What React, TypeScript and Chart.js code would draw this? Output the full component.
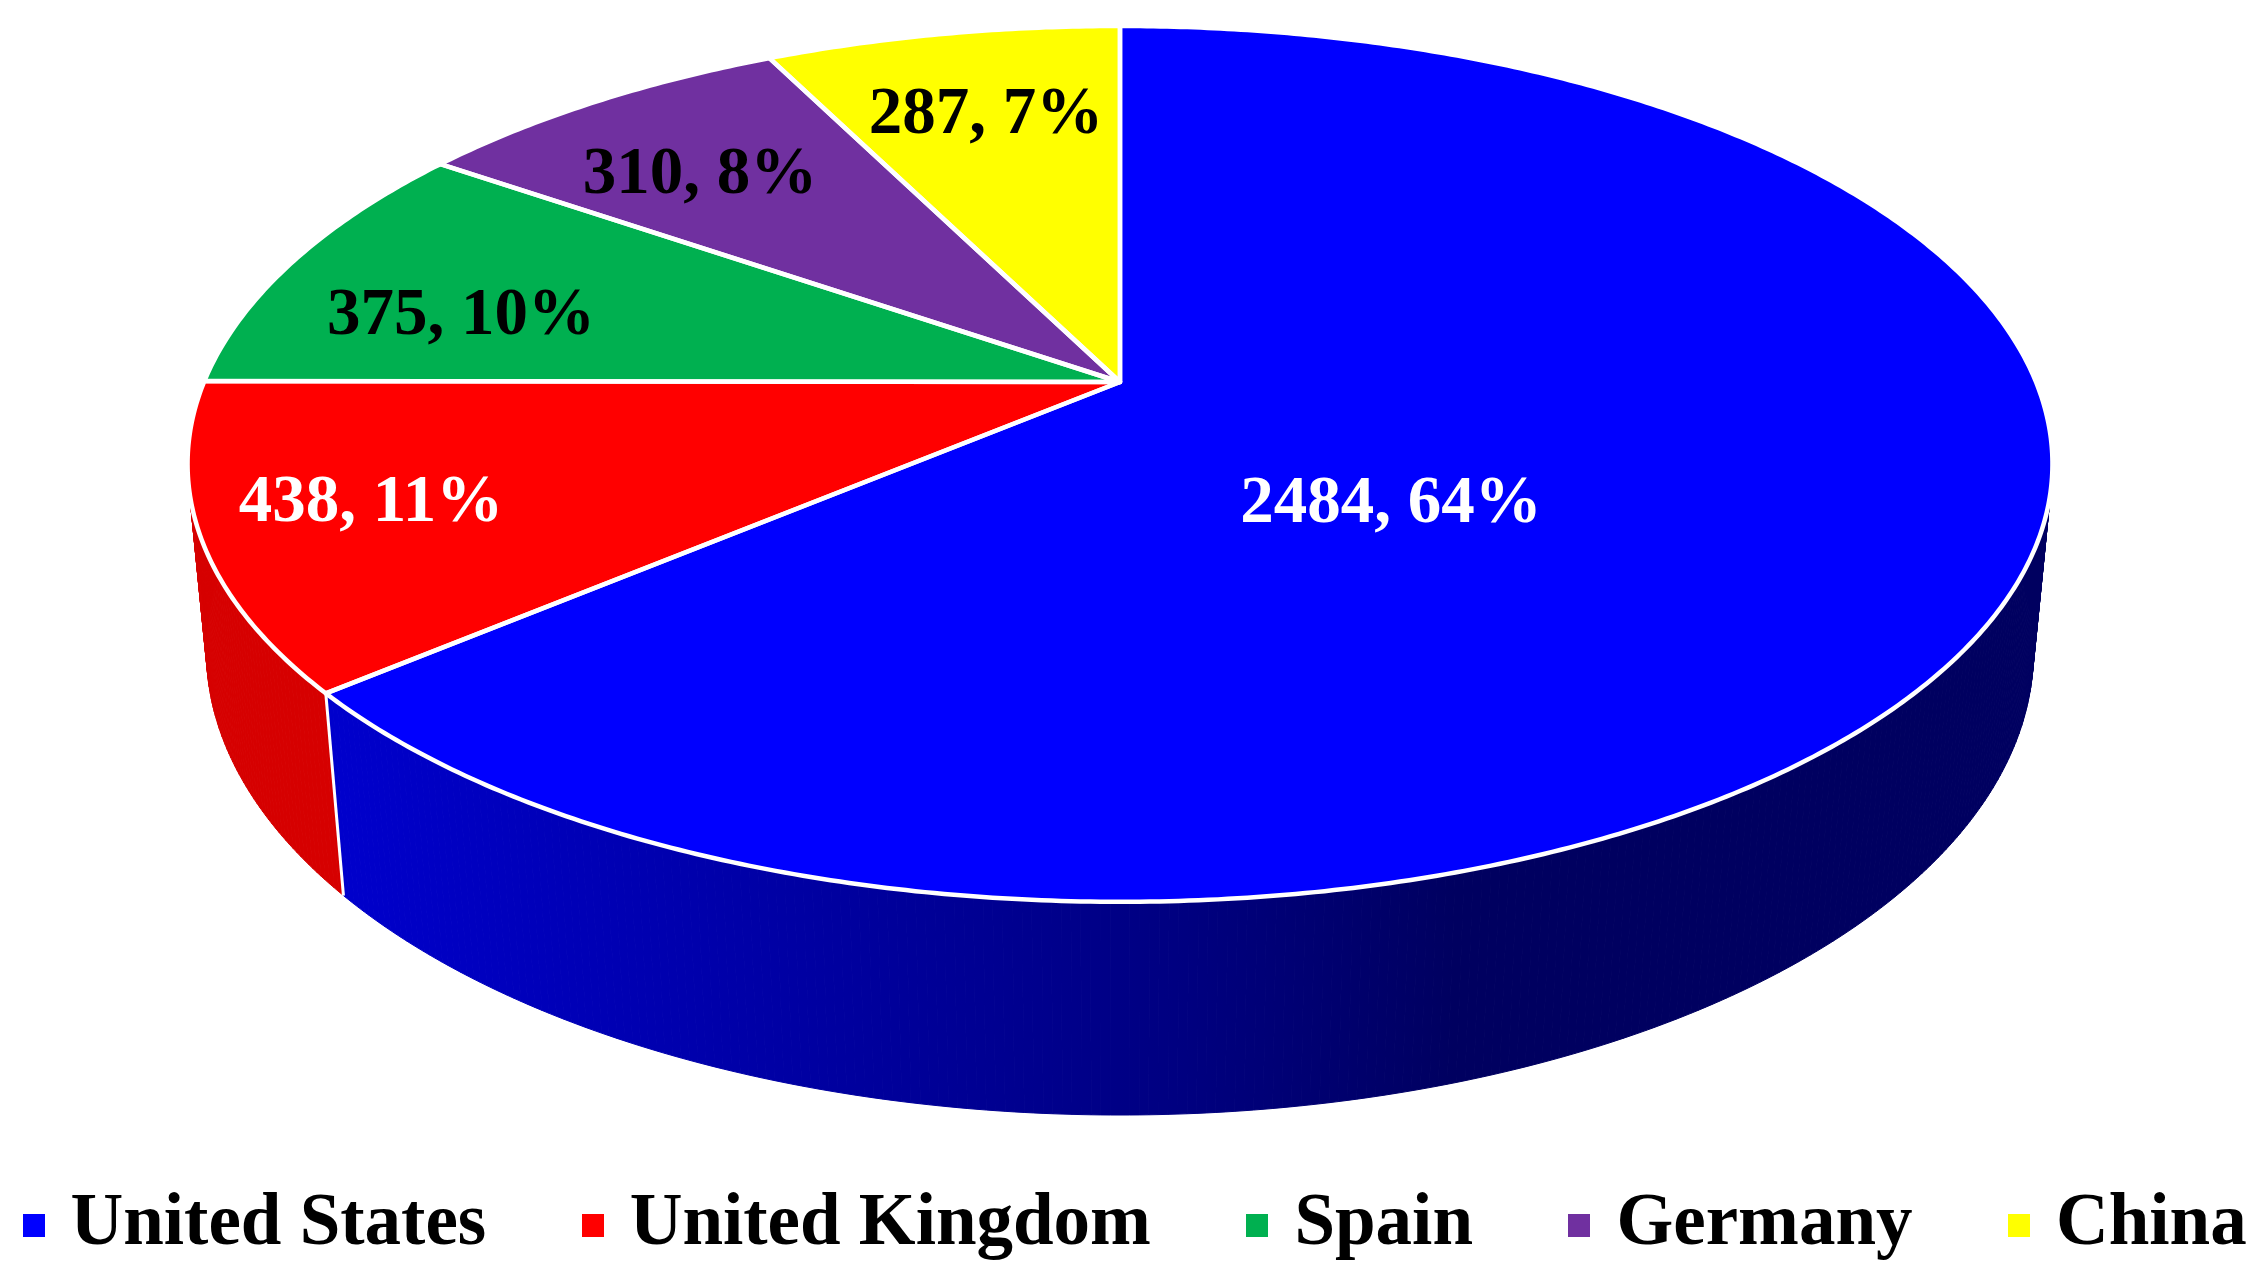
import React, { useEffect, useRef } from "react";
import { Chart, registerables } from "chart.js";

Chart.register(...registerables);

const countries = ["United States", "United Kingdom", "Spain", "Germany", "China"];
const publications = [2484, 438, 375, 310, 287];
const topColors = ["#0000FF", "#FF0000", "#00B050", "#7030A0", "#FFFF00"];
const labelColors = ["#FFFFFF", "#FFFFFF", "#000000", "#000000", "#000000"];
const labelAnchors = [
  [1391, 522],
  [371, 521],
  [461, 334],
  [700, 193],
  [986, 133],
];

const FONT = "'Liberation Serif', 'Times New Roman', serif";
const CANVAS_W = 2266;
const CANVAS_H = 1287;

// Perspective camera of the disc: a projective map of the unit circle
const cam = { ox: 1120, oy: 382, a: 916, b: 422.6, d: -0.187, c: 188, e: 0.02 };
const project = (u: number, v: number, z: number): [number, number] => {
  const w = 1 + cam.d * v + cam.e * z;
  return [cam.ox + (cam.a * u) / w, cam.oy + (cam.b * v + cam.c * z) / w];
};
const rim = (theta: number, z: number) => project(Math.cos(theta), Math.sin(theta), z);

const sideColor = (ctx: CanvasRenderingContext2D, idx: number): string | CanvasGradient => {
  if (idx === 0) {
    const g = ctx.createLinearGradient(340, 0, 2030, 0);
    g.addColorStop(0, "#0000CC");
    g.addColorStop(0.34, "#000098");
    g.addColorStop(0.5, "#000080");
    g.addColorStop(0.66, "#000060");
    g.addColorStop(1, "#000060");
    return g;
  }
  if (idx === 1) return "#D60000";
  return "#000000";
};

const pieProjection = {
  id: "pieProjection",
  beforeDatasetsDraw(chart: any) {
    const { ctx } = chart;
    const arcs = chart.getDatasetMeta(0).data;
    const STEP = Math.PI / 360;
    ctx.save();
    // extruded side wall (only the front slices are visible)
    [1, 0].forEach((i) => {
      const { startAngle, endAngle } = arcs[i];
      const from = startAngle;
      const to = i === 1 ? Math.min(endAngle, Math.PI) : endAngle;
      const fill = sideColor(ctx, i);
      ctx.fillStyle = fill;
      ctx.strokeStyle = fill;
      ctx.lineWidth = 1;
      for (let t = from; t < to; t += STEP) {
        const t2 = Math.min(t + STEP, to);
        const p = [rim(t, 0), rim(t2, 0), rim(t2, 1), rim(t, 1)];
        ctx.beginPath();
        p.forEach(([x, y], k) => (k ? ctx.lineTo(x, y) : ctx.moveTo(x, y)));
        ctx.closePath();
        ctx.fill();
        ctx.stroke();
      }
    });
    // white seam between the two visible walls
    const seam = arcs[0].endAngle;
    ctx.strokeStyle = "#FFFFFF";
    ctx.lineWidth = 3;
    ctx.beginPath();
    ctx.moveTo(...rim(seam, 0));
    ctx.lineTo(...rim(seam, 1));
    ctx.stroke();
    // top faces
    ctx.lineJoin = "round";
    arcs.forEach((arc: any, i: number) => {
      ctx.beginPath();
      ctx.moveTo(...project(0, 0, 0));
      for (let t = arc.startAngle; t < arc.endAngle; t += STEP) ctx.lineTo(...rim(t, 0));
      ctx.lineTo(...rim(arc.endAngle, 0));
      ctx.closePath();
      ctx.fillStyle = topColors[i];
      ctx.fill();
    });
    ctx.strokeStyle = "#FFFFFF";
    ctx.lineWidth = 4.5;
    arcs.forEach((arc: any) => {
      ctx.beginPath();
      ctx.moveTo(...project(0, 0, 0));
      for (let t = arc.startAngle; t < arc.endAngle; t += STEP) ctx.lineTo(...rim(t, 0));
      ctx.lineTo(...rim(arc.endAngle, 0));
      ctx.closePath();
      ctx.stroke();
    });
    // value labels
    const total = publications.reduce((s, v) => s + v, 0);
    ctx.font = `bold 67px ${FONT}`;
    ctx.textAlign = "center";
    ctx.textBaseline = "alphabetic";
    publications.forEach((v, i) => {
      ctx.fillStyle = labelColors[i];
      ctx.fillText(`${v}, ${Math.round((v / total) * 100)}%`, labelAnchors[i][0], labelAnchors[i][1]);
    });
    ctx.restore();
    return false;
  },
};

const marker = (color: string) => {
  const c = document.createElement("canvas");
  c.width = 22;
  c.height = 23;
  const g = c.getContext("2d")!;
  g.fillStyle = color;
  g.fillRect(0, 0, 22, 23);
  return c;
};

export default function App() {
  const ref = useRef<HTMLCanvasElement>(null);
  useEffect(() => {
    document.body.style.margin = "0";
    document.body.style.background = "#FFFFFF";
    const chart = new Chart(ref.current!, {
      type: "pie",
      data: {
        labels: countries,
        datasets: [{ data: publications, backgroundColor: topColors, borderColor: "#FFFFFF", borderWidth: 3 }],
      },
      options: {
        responsive: false,
        animation: false,
        layout: { padding: { left: -73, right: -300, bottom: 15, top: 0 } },
        plugins: {
          title: { display: false },
          tooltip: { enabled: false },
          legend: {
            position: "bottom",
            align: "start",
            labels: {
              usePointStyle: true,
              boxWidth: 1,
              padding: 106,
              color: "#000000",
              font: { family: FONT, size: 73, weight: "bold" },
              generateLabels(c: any) {
                const base = (Chart as any).overrides.doughnut.plugins.legend.labels.generateLabels(c);
                return base.map((it: any, i: number) => ({ ...it, pointStyle: marker(topColors[i]) }));
              },
            },
          },
        },
      },
      plugins: [pieProjection],
    } as any);
    return () => chart.destroy();
  }, []);
  return (
    <div style={{ position: "relative", width: 2266, height: 1287, overflow: "hidden", background: "#FFFFFF" }}>
      <canvas ref={ref} width={CANVAS_W} height={CANVAS_H} style={{ display: "block" }} />
    </div>
  );
}
